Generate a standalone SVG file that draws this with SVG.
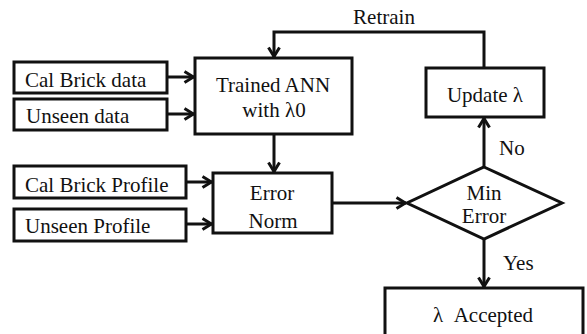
<svg xmlns="http://www.w3.org/2000/svg" width="587" height="334" viewBox="0 0 587 334" font-family="Liberation Serif">
<defs>
<marker id="ah" markerUnits="userSpaceOnUse" viewBox="0 0 12 14" refX="11" refY="7" markerWidth="12" markerHeight="14" orient="auto">
<path d="M1.5,1.5 L10.5,7 L1.5,12.5" fill="none" stroke="#111" stroke-width="3"/>
</marker>
</defs>
<rect width="587" height="334" fill="#fff"/>
<g id="connectors" fill="none" stroke="#111" stroke-width="3">
<path d="M167,77 H194" marker-end="url(#ah)"/>
<path d="M167,114 H194" marker-end="url(#ah)"/>
<path d="M484,68 V32 H274 V57" marker-end="url(#ah)"/>
<path d="M274,134 V172" marker-end="url(#ah)"/>
<path d="M186,182 H212" marker-end="url(#ah)"/>
<path d="M186,224 H212" marker-end="url(#ah)"/>
<path d="M332,203 H406" marker-end="url(#ah)"/>
<path d="M484,167 V118" marker-end="url(#ah)"/>
<path d="M484,239 V287" marker-end="url(#ah)"/>
</g>
<g id="labels">
<text x="384" y="24" style="font-family:'Liberation Serif','Times New Roman',serif;font-size:21px;fill:#111;text-anchor:middle">Retrain</text>
<text x="499" y="155" style="font-family:'Liberation Serif','Times New Roman',serif;font-size:21px;fill:#111">No</text>
<text x="503" y="270" style="font-family:'Liberation Serif','Times New Roman',serif;font-size:21px;fill:#111">Yes</text>
</g>
<g id="cal-brick-data">
<rect x="14" y="62" width="153" height="31" fill="#fff" stroke="#111" stroke-width="3"/>
<text x="25" y="87" style="font-family:'Liberation Serif','Times New Roman',serif;font-size:21px;fill:#111">Cal Brick data</text>
</g>
<g id="unseen-data">
<rect x="14" y="99" width="153" height="31" fill="#fff" stroke="#111" stroke-width="3"/>
<text x="26" y="123" style="font-family:'Liberation Serif','Times New Roman',serif;font-size:21px;fill:#111">Unseen data</text>
</g>
<g id="trained-ann">
<rect x="195" y="58" width="157" height="76" fill="#fff" stroke="#111" stroke-width="3"/>
<text x="273" y="92" style="font-family:'Liberation Serif','Times New Roman',serif;font-size:21px;fill:#111;text-anchor:middle">Trained ANN</text>
<text x="274" y="117" style="font-family:'Liberation Serif','Times New Roman',serif;font-size:21px;fill:#111;text-anchor:middle">with λ0</text>
</g>
<g id="update-lambda">
<rect x="426" y="68" width="118" height="49" fill="#fff" stroke="#111" stroke-width="3"/>
<text x="485" y="102" style="font-family:'Liberation Serif','Times New Roman',serif;font-size:21px;fill:#111;text-anchor:middle">Update λ</text>
</g>
<g id="cal-brick-profile">
<rect x="14" y="166" width="172" height="32" fill="#fff" stroke="#111" stroke-width="3"/>
<text x="25" y="192" style="font-family:'Liberation Serif','Times New Roman',serif;font-size:21px;fill:#111">Cal Brick Profile</text>
</g>
<g id="unseen-profile">
<rect x="14" y="209" width="172" height="32" fill="#fff" stroke="#111" stroke-width="3"/>
<text x="25" y="233" style="font-family:'Liberation Serif','Times New Roman',serif;font-size:21px;fill:#111">Unseen Profile</text>
</g>
<g id="error-norm">
<rect x="213" y="173" width="119" height="60" fill="#fff" stroke="#111" stroke-width="3"/>
<text x="272" y="200" style="font-family:'Liberation Serif','Times New Roman',serif;font-size:21px;fill:#111;text-anchor:middle">Error</text>
<text x="273" y="228" style="font-family:'Liberation Serif','Times New Roman',serif;font-size:21px;fill:#111;text-anchor:middle">Norm</text>
</g>
<g id="min-error">
<polygon points="484,167 562,203 484,239 407,203" fill="#fff" stroke="#111" stroke-width="3"/>
<text x="484" y="200" style="font-family:'Liberation Serif','Times New Roman',serif;font-size:21px;fill:#111;text-anchor:middle">Min</text>
<text x="484" y="223" style="font-family:'Liberation Serif','Times New Roman',serif;font-size:21px;fill:#111;text-anchor:middle">Error</text>
</g>
<g id="lambda-accepted">
<rect x="385" y="288" width="198" height="50" fill="#fff" stroke="#111" stroke-width="3"/>
<text x="483" y="322" xml:space="preserve" style="font-family:'Liberation Serif','Times New Roman',serif;font-size:21px;fill:#111;text-anchor:middle">λ  Accepted</text>
</g>
</svg>
